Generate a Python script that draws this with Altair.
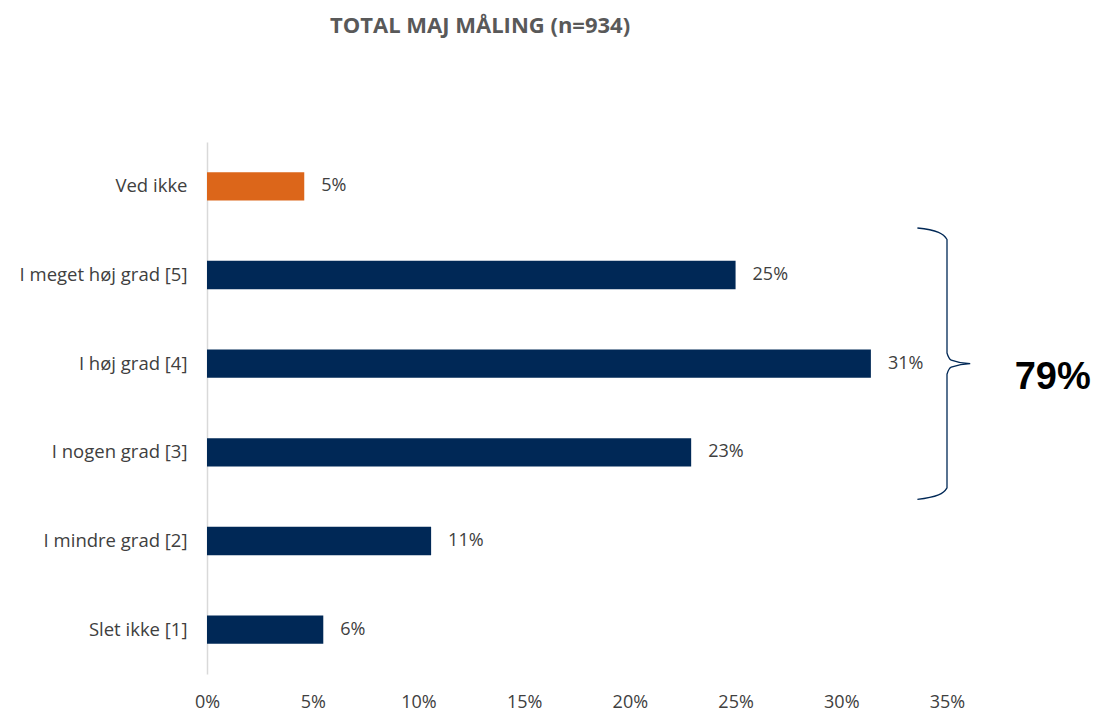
import altair as alt
import pandas as pd

categories = ["Ved ikke", "I meget høj grad [5]", "I høj grad [4]", "I nogen grad [3]", "I mindre grad [2]", "Slet ikke [1]"]
values = [0.046, 0.250, 0.314, 0.229, 0.106, 0.055]
labels = ["5%", "25%", "31%", "23%", "11%", "6%"]
groups = ["ved", "scale", "scale", "scale", "scale", "scale"]

# brace annotation (x in share units, y in band units counted from bottom: 0..6)
brace_x = [0.336, 0.346, 0.350, 0.350, 0.352, 0.361, 0.352, 0.350, 0.350, 0.346, 0.336]
brace_y = [5.03, 4.98, 4.90, 3.62, 3.54, 3.50, 3.46, 3.38, 2.10, 2.02, 1.97]
total_label = "79%"

df = pd.DataFrame({"cat": categories, "val": values, "lab": labels, "grp": groups})
brace = pd.DataFrame({"bx": brace_x, "by": brace_y, "o": list(range(len(brace_x)))})
tot = pd.DataFrame({"tx": [0.400], "ty": [3.34], "t": [total_label]})

FONT = "Open Sans"
W, H = 740, 532

xscale = alt.Scale(domain=[0, 0.35])
xaxis = alt.Axis(format=".0%", values=[0, 0.05, 0.1, 0.15, 0.2, 0.25, 0.3, 0.35],
                 labelFontSize=18, labelColor="#404040", labelFont=FONT, labelFlush=False,
                 labelPadding=19, ticks=False, domain=False, grid=False)
yband = alt.Y("cat:N", sort=categories, title=None,
              scale=alt.Scale(paddingInner=0.68, paddingOuter=0.34),
              axis=alt.Axis(labelFontSize=18.5, labelColor="#404040", labelFont=FONT,
                            labelPadding=20, ticks=False, domainColor="#d9d9d9",
                            domainWidth=1.5, grid=False))

bars = alt.Chart(df).mark_bar().encode(
    x=alt.X("val:Q", scale=xscale, title=None, axis=xaxis),
    y=yband,
    color=alt.Color("grp:N", scale=alt.Scale(domain=["ved", "scale"], range=["#DC661A", "#002856"]), legend=None),
)
texts = alt.Chart(df).mark_text(align="left", dx=17, fontSize=18, color="#404040", font=FONT).encode(
    x=alt.X("val:Q", scale=xscale, title=None, axis=xaxis),
    y=alt.Y("cat:N", sort=categories, title=None), text="lab:N"
)
base = alt.layer(bars, texts)

yq = alt.Scale(domain=[0, 6])
brace_line = alt.Chart(brace).mark_line(color="#002856", strokeWidth=1.3, interpolate="monotone", clip=False).encode(
    x=alt.X("bx:Q", scale=xscale, title=None, axis=xaxis),
    y=alt.Y("by:Q", scale=yq, axis=None),
    order="o:Q",
)
tot_text = alt.Chart(tot).mark_text(fontSize=38, fontWeight="bold", font="Liberation Sans", color="#000000", baseline="middle").encode(
    x=alt.X("tx:Q", scale=xscale, title=None, axis=xaxis),
    y=alt.Y("ty:Q", scale=yq, axis=None),
    text="t:N",
)
annot = alt.layer(brace_line, tot_text)

chart = alt.layer(base, annot).resolve_scale(y="independent").properties(
    width=W, height=H,
    title=alt.TitleParams("TOTAL MAJ MÅLING (n=934)", anchor="start", dx=311, offset=104,
                          fontSize=22, font="Open Sans", fontWeight="bold", color="#595959"),
    padding={"left": 11, "top": 7, "right": 5, "bottom": 5},
).configure_view(stroke=None)

chart.save("out.html", embed_options={"renderer": "svg", "actions": False})
